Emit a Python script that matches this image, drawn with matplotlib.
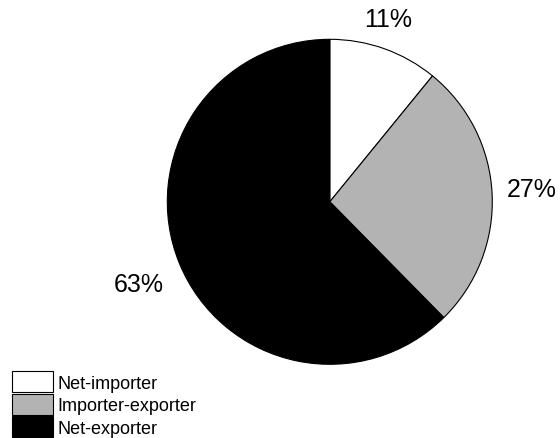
import numpy as np
import matplotlib
matplotlib.use('Agg')
import matplotlib.pyplot as plt

plt.rcParams['font.family'] = ['Liberation Sans', 'DejaVu Sans']

categories = ['Net-importer', 'Importer-exporter', 'Net-exporter']
shares = [11, 27, 63]
colors = ['#ffffff', '#b3b3b3', '#000000']
# label centres, in pie-radius units
label_xy = [(0.357, 1.126), (1.241, 0.077), (-1.176, -0.503)]

fig = plt.figure(figsize=(5.6, 4.39), dpi=100)
W, H = 560, 439
cx, cy, r = 329.8, 202.8, 162.5
ax = fig.add_axes([(cx - r) / W, (H - cy - r) / H, 2 * r / W, 2 * r / H])

wedges, _ = ax.pie(shares, colors=colors, startangle=90, counterclock=False,
                   radius=1.0, wedgeprops=dict(edgecolor='black', linewidth=0.8))
ax.set_xlim(-1, 1)
ax.set_ylim(-1, 1)
ax.set_aspect('equal')
ax.axis('off')

for v, (x, y) in zip(shares, label_xy):
    ax.text(x, y, f'{v}%', ha='center', va='center', fontsize=18, clip_on=False)

leg = fig.legend(wedges, categories, loc='lower left', bbox_to_anchor=(12 / W, 1 / H),
                 frameon=False, fontsize=13, handlelength=2.27, handleheight=1.41,
                 handletextpad=0.25, labelspacing=0.08, borderpad=0, borderaxespad=0)

fig.savefig('out.png', dpi=100)
